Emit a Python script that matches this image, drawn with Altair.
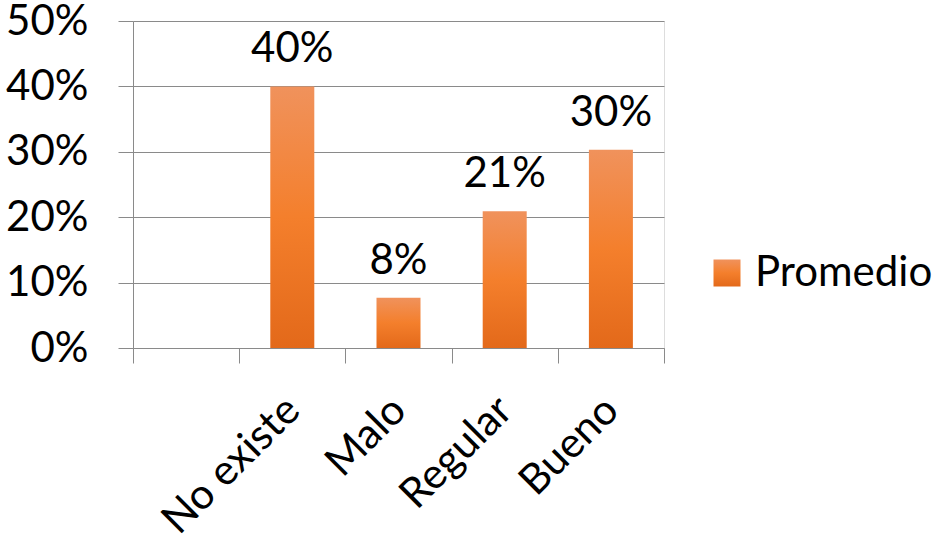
import altair as alt
import pandas as pd

categories = [" ", "No existe", "Malo", "Regular", "Bueno"]
bar_categories = ["No existe", "Malo", "Regular", "Bueno"]
values = [0.40, 0.077, 0.209, 0.303]
series_name = "Promedio"
y_ticks = [0, 0.1, 0.2, 0.3, 0.4, 0.5]

df = pd.DataFrame({"cat": bar_categories, "val": values, "serie": [series_name] * len(values)})

FONT = "Lato"
GRAY = "#8a8a8a"

grad_expr = (
    "{gradient: 'linear', x1: 0, y1: 0, x2: 0, y2: 1, stops: ["
    "{offset: 0, color: '#F0925C'}, {offset: 0.5, color: '#F47F2C'}, {offset: 1, color: '#E3691A'}]}"
)

x_enc = alt.X(
    "cat:N",
    scale=alt.Scale(domain=categories, paddingInner=0, paddingOuter=0),
    sort=categories,
    axis=alt.Axis(
        title=None,
        labelAngle=-45,
        labelFontSize=42,
        labelFont=FONT,
        labelColor="black",
        labelPadding=26,
        labelOffset=-14,
        tickBand="extent",
        tickSize=15,
        tickColor=GRAY,
        domainColor=GRAY,
        grid=False,
    ),
)

y_enc = alt.Y(
    "val:Q",
    scale=alt.Scale(domain=[0, 0.5], nice=False),
    axis=alt.Axis(
        title=None,
        values=y_ticks,
        format=".0%",
        labelFontSize=42,
        labelFont=FONT,
        labelColor="black",
        labelPadding=30,
        tickSize=15,
        tickColor=GRAY,
        domainColor=GRAY,
        gridColor=GRAY,
    ),
)

bars = alt.Chart(df).mark_bar(size=44).encode(
    x=x_enc,
    y=y_enc,
    color=alt.Color(
        "serie:N",
        scale=alt.Scale(domain=[series_name], range=[alt.ExprRef(expr=grad_expr)]),
        legend=alt.Legend(
            title=None,
            orient="none",
            legendX=573,
            legendY=231,
            symbolType="square",
            symbolSize=729,
            symbolStrokeWidth=0,
            labelFontSize=42,
            labelFont=FONT,
            labelColor="black",
            labelOffset=7,
            labelLimit=400,
        ),
    ),
)

labels = alt.Chart(df).mark_text(
    baseline="alphabetic", dy=-24, fontSize=42, font=FONT, color="black"
).encode(
    x=alt.X("cat:N", scale=alt.Scale(domain=categories), sort=categories),
    y="val:Q",
    text=alt.Text("val:Q", format=".0%"),
)

chart = (
    alt.layer(bars, labels)
    .properties(
        width=531,
        height=327,
        autosize=alt.AutoSizeParams(type="none"),
        padding={"left": 133, "top": 21, "right": 282, "bottom": 191},
    )
    .configure_view(stroke=None)
    .configure(background="white")
)

chart.save("out.html", embed_options={"renderer": "svg", "actions": False})
